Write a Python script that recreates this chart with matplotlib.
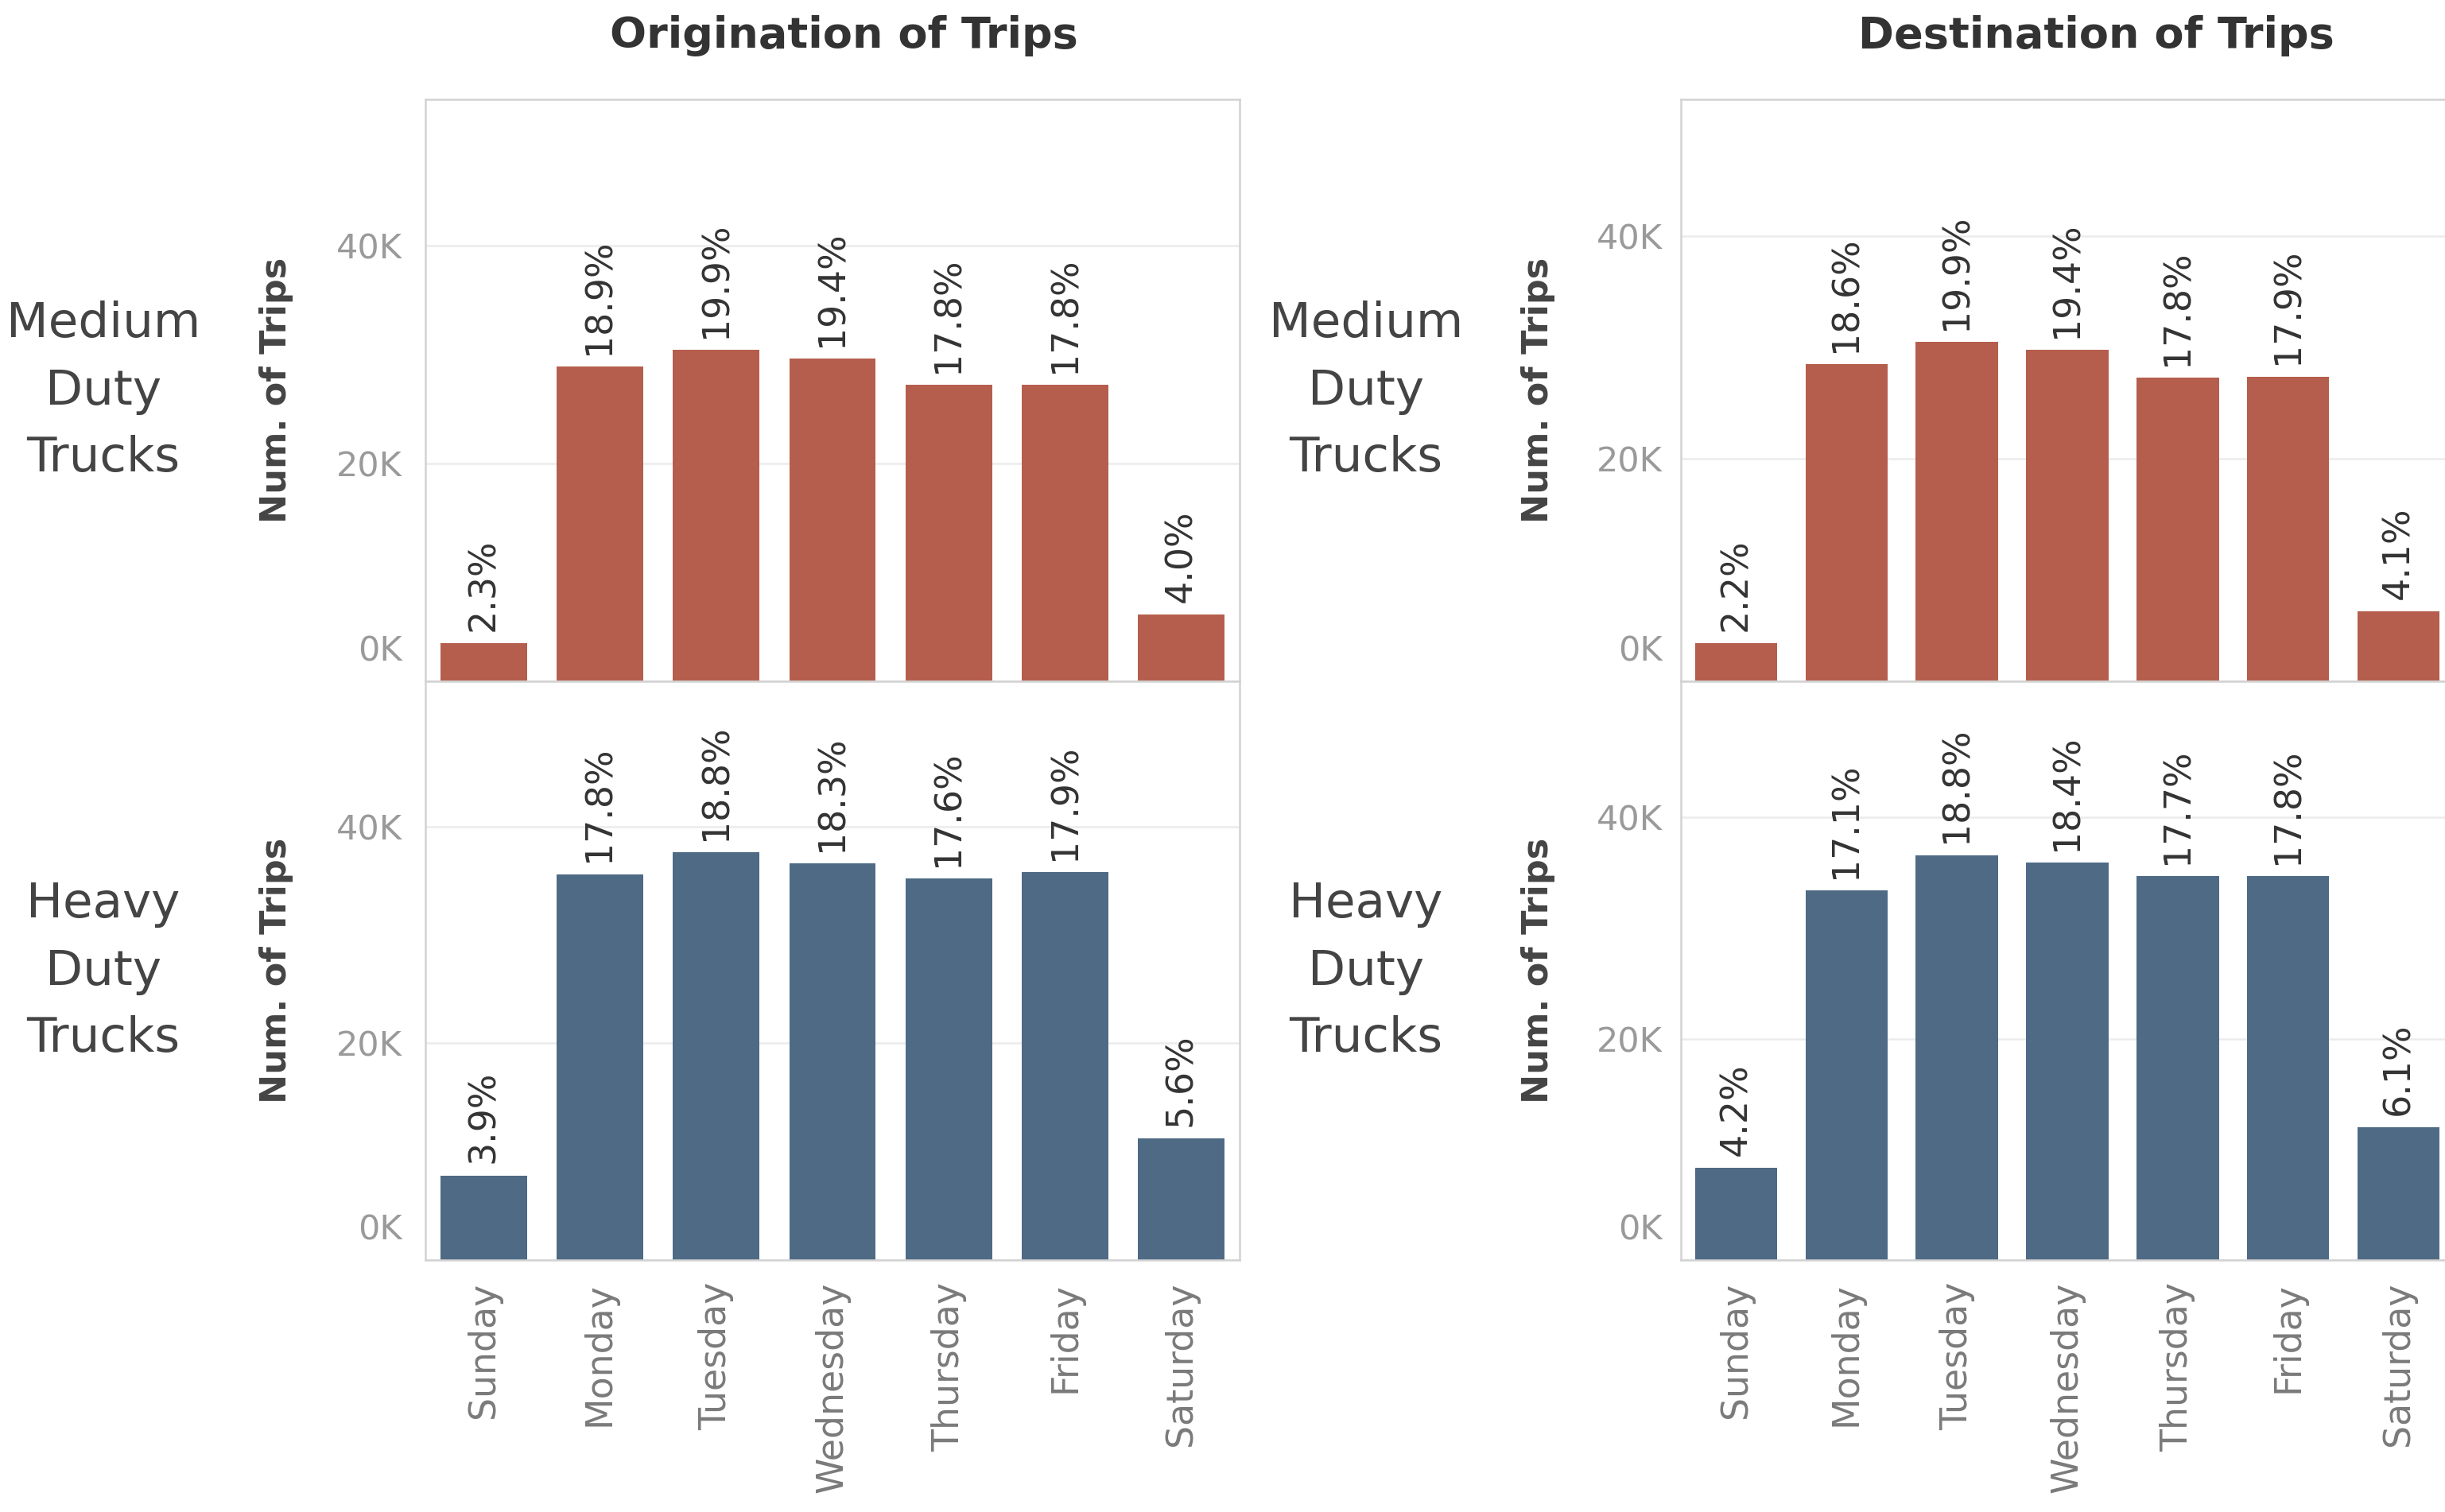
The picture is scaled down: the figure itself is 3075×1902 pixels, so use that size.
import matplotlib.pyplot as plt
from matplotlib.ticker import FuncFormatter
from matplotlib.transforms import ScaledTranslation

days = ['Sunday', 'Monday', 'Tuesday', 'Wednesday', 'Thursday', 'Friday', 'Saturday']

# trips per day
medium_origin = [3500, 28900, 30400, 29600, 27200, 27200, 6100]
heavy_origin = [7800, 35600, 37600, 36600, 35200, 35800, 11200]
medium_dest = [3400, 28500, 30500, 29800, 27300, 27400, 6300]
heavy_dest = [8300, 33400, 36600, 35900, 34700, 34700, 12000]

# share of the week (%)
medium_origin_pct = [2.3, 18.9, 19.9, 19.4, 17.8, 17.8, 4.0]
heavy_origin_pct = [3.9, 17.8, 18.8, 18.3, 17.6, 17.9, 5.6]
medium_dest_pct = [2.2, 18.6, 19.9, 19.4, 17.8, 17.9, 4.1]
heavy_dest_pct = [4.2, 17.1, 18.8, 18.4, 17.7, 17.8, 6.1]

col_titles = ['Origination of Trips', 'Destination of Trips']
row_titles = ['Medium\nDuty\nTrucks', 'Heavy\nDuty\nTrucks']

plt.rcParams['font.family'] = ['DejaVu Sans']

W, H = 3075, 1902
fig = plt.figure(figsize=(W / 100, H / 100), dpi=100)


def box(l, t, r, b):
    return [l / W, 1 - b / H, (r - l) / W, (b - t) / H]


red = '#b55e4d'
blue = '#4e6a85'
border = '#d2d2d2'

cols = [
    dict(left=535, right=1559, ytop=53400, tickpad=21, title_x=1061, row_x=130, ylab=-0.162,
         data=[(medium_origin, medium_origin_pct), (heavy_origin, heavy_origin_pct)]),
    dict(left=2114, right=3086, ytop=52300, tickpad=17, title_x=2636, row_x=1718, ylab=-0.163,
         data=[(medium_dest, medium_dest_pct), (heavy_dest, heavy_dest_pct)]),
]
rows = [(125, 857, red, 492), (857, 1585, blue, 1222)]

kfmt = FuncFormatter(lambda v, p: '%dK' % (v / 1000))

for c, col in enumerate(cols):
    fig.text(col['title_x'] / W, 1 - 45 / H, col_titles[c], ha='center', va='center',
             fontsize=39, fontweight='bold', color='#333333')
    for r, (top, bottom, color, row_y) in enumerate(rows):
        vals, pcts = col['data'][r]
        ax = fig.add_axes(box(col['left'], top, col['right'], bottom))
        ax.bar(range(len(days)), vals, width=0.745, color=color, zorder=2)
        for i, v in enumerate(vals):
            ax.annotate('%.1f%%' % pcts[i], (i, v), xytext=(0, 11), textcoords='offset points',
                        rotation=90, ha='center', va='bottom', fontsize=33, color='#333333')
        ax.set_xlim(-0.5, len(days) - 0.5)
        ax.set_ylim(0, col['ytop'])
        ax.set_yticks([0, 20000, 40000])
        ax.yaxis.set_major_formatter(kfmt)
        ax.grid(axis='y', color='#ececec', linewidth=1.8, zorder=0)
        ax.tick_params(axis='y', length=0, pad=col['tickpad'], labelsize=31, labelcolor='#9a9a9a')
        fig.canvas.draw()
        zero = ax.get_yticklabels()[0]
        zero.set_va('bottom')
        zero.set_transform(zero.get_transform() + ScaledTranslation(0, 0.17, fig.dpi_scale_trans))
        ax.set_xticks(range(len(days)))
        if r == 1:
            ax.set_xticklabels(days, rotation=90, va='top', ha='center')
            ax.tick_params(axis='x', length=0, pad=20, labelsize=33, labelcolor='#7a7a7a')
        else:
            ax.tick_params(axis='x', length=0, labelbottom=False)
        for s in ax.spines.values():
            s.set_color(border)
            s.set_linewidth(1.8)
        ax.set_ylabel('Num. of Trips', fontsize=32, fontweight='bold', color='#444444')
        ax.yaxis.set_label_coords(col['ylab'], 0.5)
        fig.text(col['row_x'] / W, 1 - row_y / H, row_titles[r], ha='center', va='center',
                 fontsize=44, color='#444444', linespacing=1.55)

fig.savefig('out.png', dpi=100)
